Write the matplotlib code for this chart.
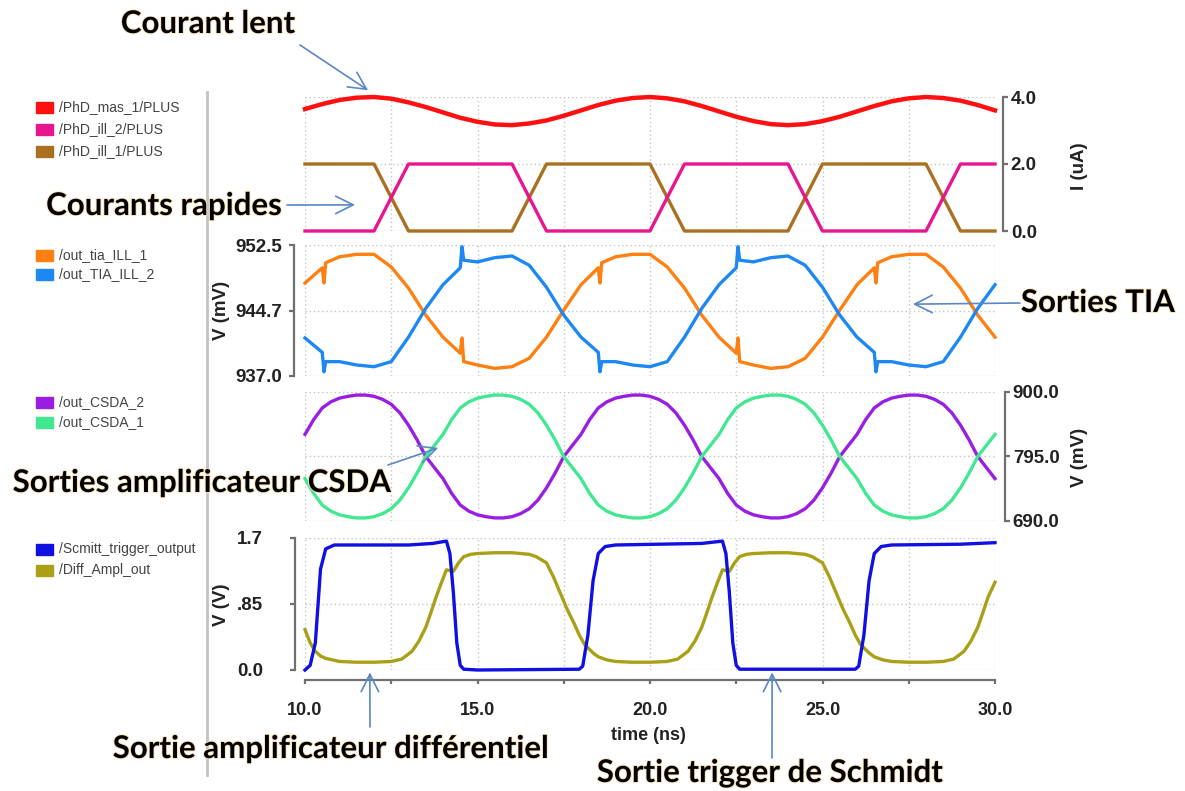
import matplotlib.pyplot as plt
import matplotlib.patheffects as pe
from matplotlib.patches import Rectangle
from matplotlib.lines import Line2D

# ---------------- data ----------------
# time grids (ns)
t_half = [10.0, 10.5, 11.0, 11.5, 12.0, 12.5, 13.0, 13.5, 14.0, 14.5,
          15.0, 15.5, 16.0, 16.5, 17.0, 17.5, 18.0, 18.5, 19.0, 19.5,
          20.0, 20.5, 21.0, 21.5, 22.0, 22.5, 23.0, 23.5, 24.0, 24.5,
          25.0, 25.5, 26.0, 26.5, 27.0, 27.5, 28.0, 28.5, 29.0, 29.5, 30.0]
t_quarter = [10.0, 10.25, 10.5, 10.75, 11.0, 11.25, 11.5, 11.75, 12.0, 12.25,
             12.5, 12.75, 13.0, 13.25, 13.5, 13.75, 14.0, 14.25, 14.5, 14.75,
             15.0, 15.25, 15.5, 15.75, 16.0, 16.25, 16.5, 16.75, 17.0, 17.25,
             17.5, 17.75, 18.0, 18.25, 18.5, 18.75, 19.0, 19.25, 19.5, 19.75,
             20.0, 20.25, 20.5, 20.75, 21.0, 21.25, 21.5, 21.75, 22.0, 22.25,
             22.5, 22.75, 23.0, 23.25, 23.5, 23.75, 24.0, 24.25, 24.5, 24.75,
             25.0, 25.25, 25.5, 25.75, 26.0, 26.25, 26.5, 26.75, 27.0, 27.25,
             27.5, 27.75, 28.0, 28.25, 28.5, 28.75, 29.0, 29.25, 29.5, 29.75, 30.0]

# panel 1 : currents (uA)
mas_1 = [3.64, 3.79, 3.91, 3.98, 4.00, 3.95, 3.84, 3.70, 3.54, 3.38,
         3.26, 3.18, 3.16, 3.21, 3.30, 3.44, 3.60, 3.76, 3.89, 3.97,
         4.00, 3.96, 3.87, 3.73, 3.57, 3.41, 3.28, 3.19, 3.16, 3.19,
         3.28, 3.41, 3.57, 3.73, 3.87, 3.96, 4.00, 3.97, 3.89, 3.76, 3.60]
t_fast = [10, 12, 13, 16, 17, 20, 21, 24, 25, 28, 29, 30]
ill_2 = [0, 0, 2, 2, 0, 0, 2, 2, 0, 0, 2, 2]
ill_1 = [2, 2, 0, 0, 2, 2, 0, 0, 2, 2, 0, 0]

# panel 2 : TIA outputs (mV)
t_tia = [10.0, 10.5, 10.55, 10.6, 11.0, 11.5, 12.0, 12.5, 13.0, 13.5,
         14.0, 14.5, 14.55, 14.6, 15.0, 15.5, 16.0, 16.5, 17.0, 17.5,
         18.0, 18.5, 18.55, 18.6, 19.0, 19.5, 20.0, 20.5, 21.0, 21.5,
         22.0, 22.5, 22.55, 22.6, 23.0, 23.5, 24.0, 24.5, 25.0, 25.5,
         26.0, 26.5, 26.55, 26.6, 27.0, 27.5, 28.0, 28.5, 29.0, 29.5, 30.0]
tia_1 = [948.0, 949.8, 948.0, 950.4, 951.1, 951.4, 951.4, 949.9, 947.4, 944.2,
         941.6, 939.7, 941.5, 938.7, 938.3, 937.9, 938.1, 939.1, 941.6, 944.8,
         947.8, 949.8, 948.0, 950.4, 951.1, 951.4, 951.4, 949.9, 947.4, 944.2,
         941.6, 939.7, 941.5, 938.7, 938.3, 937.9, 938.1, 939.1, 941.6, 944.8,
         947.8, 949.8, 948.0, 950.4, 951.1, 951.4, 951.4, 949.9, 947.4, 944.2, 941.6]
tia_2 = [941.5, 939.8, 937.5, 938.7, 938.7, 938.3, 938.1, 938.7, 941.6, 945.0,
         947.8, 949.8, 952.3, 950.7, 950.5, 951.0, 951.2, 950.1, 947.5, 944.2,
         941.6, 939.8, 937.5, 938.7, 938.7, 938.3, 938.1, 938.7, 941.6, 945.0,
         947.8, 949.8, 952.3, 950.7, 950.5, 951.0, 951.2, 950.1, 947.5, 944.2,
         941.6, 939.8, 937.5, 938.7, 938.7, 938.3, 938.1, 938.7, 941.6, 945.0, 947.8]

# panel 3 : CSDA outputs (mV)
csda_2 = [831, 855, 874, 884, 890, 893, 895, 895, 893, 888, 880, 866, 846, 822, 795,
          777, 759, 735, 716, 706, 700, 697, 695, 695, 697, 702, 710, 724, 744, 768, 795,
          813, 831, 855, 874, 884, 890, 893, 895, 895, 893, 888, 880, 866, 846, 822, 795,
          777, 759, 735, 716, 706, 700, 697, 695, 695, 697, 702, 710, 724, 744, 768, 795,
          813, 831, 855, 874, 884, 890, 893, 895, 895, 893, 888, 880, 866, 846, 822, 795,
          777, 759]
csda_1 = [759, 735, 716, 706, 700, 697, 695, 695, 697, 702, 710, 724, 744, 768, 795,
          813, 831, 855, 874, 884, 890, 893, 895, 895, 893, 888, 880, 866, 846, 822, 795,
          777, 759, 735, 716, 706, 700, 697, 695, 695, 697, 702, 710, 724, 744, 768, 795,
          813, 831, 855, 874, 884, 890, 893, 895, 895, 893, 888, 880, 866, 846, 822, 795,
          777, 759, 735, 716, 706, 700, 697, 695, 695, 697, 702, 710, 724, 744, 768, 795,
          813, 831]

# panel 4 : Schmitt trigger and differential amplifier (V)
t_st = [10.0, 10.15, 10.3, 10.45, 10.6, 10.85, 12.0, 13.0, 13.7, 14.1,
        14.2, 14.3, 14.4, 14.5, 14.6, 15.0, 17.95, 18.05, 18.2, 18.35,
        18.5, 18.7, 19.0, 21.5, 22.1, 22.2, 22.3, 22.4, 22.5, 22.6,
        25.95, 26.05, 26.2, 26.35, 26.5, 26.7, 27.0, 29.0, 30.0]
schmitt = [0.0, 0.06, 0.35, 1.3, 1.56, 1.61, 1.61, 1.61, 1.63, 1.66,
           1.5, 1.0, 0.35, 0.06, 0.01, 0.0, 0.01, 0.05, 0.45, 1.15,
           1.5, 1.59, 1.61, 1.63, 1.66, 1.5, 1.0, 0.35, 0.06, 0.01,
           0.01, 0.05, 0.45, 1.15, 1.5, 1.59, 1.61, 1.62, 1.64]
t_diff = [10.0, 10.15, 10.3, 10.45, 10.6, 11.0, 11.5, 12.0,
          12.5, 12.8, 13.1, 13.3, 13.5, 13.65, 13.8, 13.95, 14.1, 14.3,
          14.45, 14.6, 14.8, 15.0, 15.5, 16.0, 16.5, 16.7, 16.85, 17.0,
          17.2, 17.4, 17.6, 17.8, 17.95, 18.1, 18.35, 18.5, 18.75, 19.0,
          19.5, 20.0,
          20.5, 20.8, 21.1, 21.3, 21.5, 21.65, 21.8, 21.95, 22.1, 22.3,
          22.45, 22.6, 22.8, 23.0, 23.5, 24.0, 24.5, 24.7, 24.85, 25.0,
          25.2, 25.4, 25.6, 25.8, 25.95, 26.1, 26.35, 26.5, 26.75, 27.0,
          27.5, 28.0,
          28.5, 28.8, 29.1, 29.3, 29.5, 29.65, 29.8, 30.0]
diff_out = [0.52, 0.35, 0.24, 0.18, 0.15, 0.11, 0.10, 0.10,
            0.11, 0.14, 0.24, 0.37, 0.55, 0.74, 0.94, 1.12, 1.29, 1.27,
            1.38, 1.46, 1.49, 1.50, 1.51, 1.51, 1.49, 1.46, 1.42, 1.38,
            1.20, 0.99, 0.78, 0.60, 0.45, 0.33, 0.22, 0.17, 0.13, 0.11,
            0.10, 0.10,
            0.11, 0.14, 0.24, 0.37, 0.55, 0.74, 0.94, 1.12, 1.29, 1.27,
            1.38, 1.46, 1.49, 1.50, 1.51, 1.51, 1.49, 1.46, 1.42, 1.38,
            1.20, 0.99, 0.78, 0.60, 0.45, 0.33, 0.22, 0.17, 0.13, 0.11,
            0.10, 0.10,
            0.11, 0.14, 0.24, 0.37, 0.55, 0.74, 0.94, 1.13]

x_grid = [10, 12.5, 15, 17.5, 20, 22.5, 25, 27.5, 30]
x_labels = ['10.0', '', '15.0', '', '20.0', '', '25.0', '', '30.0']

# colours
RED, PINK, BROWN = '#ff1010', '#e8168e', '#a87020'
ORANGE, SKY = '#ff8012', '#1e88f2'
PURPLE, GREEN = '#9a1ee2', '#42e890'
BLUE, OLIVE = '#1010e0', '#aaa018'
AXC = '#707070'

plt.rcParams['font.family'] = ['Liberation Sans', 'DejaVu Sans']

W, H = 1185, 791
fig = plt.figure(figsize=(W / 100, H / 100), dpi=100)


def box(x0, y0, x1, y1):
    return [x0 / W, 1 - y1 / H, (x1 - x0) / W, (y1 - y0) / H]


def setup(ax, side, lo, hi, ticks, labels, out):
    ax.set_xlim(10, 30)
    ax.set_ylim(lo, hi)
    ax.patch.set_alpha(0)
    for s in ax.spines.values():
        s.set_visible(False)
    sp = ax.spines[side]
    sp.set_visible(True)
    sp.set_position(('outward', out))
    sp.set_bounds(lo, hi)
    sp.set_color(AXC)
    sp.set_linewidth(1.6)
    ax.yaxis.set_ticks_position(side)
    ax.set_yticks(ticks)
    ax.set_yticklabels(labels, fontsize=13.5, fontweight='bold', color='#222')
    ax.set_xticks(x_grid)
    ax.tick_params(axis='x', length=0, labelbottom=False)
    ax.tick_params(axis='y', length=3.6, width=1.6, color=AXC)
    if side == 'left':
        ax.tick_params(axis='y', pad=38.5)
        for lab in ax.get_yticklabels():
            lab.set_ha('left')
    else:
        ax.tick_params(axis='y', pad=2)
    ax.grid(True, ls=(0, (1, 2)), color='#c4c4c4', lw=1)
    ax.set_axisbelow(True)


ax1 = fig.add_axes(box(305, 97, 995, 231))
ax2 = fig.add_axes(box(305, 245, 995, 376))
ax3 = fig.add_axes(box(305, 392, 995, 521))
ax4 = fig.add_axes(box(305, 538, 995, 670))

setup(ax1, 'right', 0, 4, [0, 2, 4], ['0.0', '2.0', '4.0'], 5.8)
setup(ax2, 'left', 937.0, 952.5, [937.0, 944.7, 952.5], ['937.0', '944.7', '952.5'], 8)
setup(ax3, 'right', 690, 900, [690, 795, 900], ['690.0', '795.0', '900.0'], 7.2)
setup(ax4, 'left', 0, 1.7, [0, 0.85, 1.7], ['0.0', '.85', '1.7'], 7)

# x axis of the bottom panel
xs = ax4.spines['bottom']
xs.set_visible(True)
xs.set_position(('outward', 7.2))
xs.set_bounds(10, 30)
xs.set_color(AXC)
xs.set_linewidth(1.6)
ax4.set_xticks(x_grid)
ax4.set_xticklabels(x_labels, fontsize=13, fontweight='bold', color='#222')
ax4.tick_params(axis='x', length=3, width=1.6, color=AXC, labelbottom=True, pad=13)

kw = dict(lw=2.4, clip_on=False, solid_joinstyle='round')
ax1.plot(t_half, mas_1, color=RED, lw=3.2, clip_on=False)
ax1.plot(t_fast, ill_1, color=BROWN, **kw)
ax1.plot(t_fast, ill_2, color=PINK, **kw)
ax2.plot(t_tia, tia_1, color=ORANGE, **kw)
ax2.plot(t_tia, tia_2, color=SKY, **kw)
ax3.plot(t_quarter, csda_2, color=PURPLE, **kw)
ax3.plot(t_quarter, csda_1, color=GREEN, **kw)
ax4.plot(t_diff, diff_out, color=OLIVE, **kw)
ax4.plot(t_st, schmitt, color=BLUE, **kw)

# axis titles
lab = dict(fontsize=13.5, fontweight='bold', color='#222', rotation=90,
           ha='center', va='center')
fig.text(1080 / W, 1 - 166 / H, 'I (uA)', **lab)
fig.text(222 / W, 1 - 310 / H, 'V (mV)', **lab)
fig.text(1080 / W, 1 - 457 / H, 'V (mV)', **lab)
fig.text(222 / W, 1 - 605 / H, 'V (V)', **lab)
fig.text(648 / W, 1 - 735 / H, 'time (ns)', fontsize=13, fontweight='bold',
         color='#222', ha='center', va='center')

# grey separator between legend column and plots
fig.add_artist(Line2D([207 / W, 207 / W], [1 - 92 / H, 1 - 775 / H],
                      color='#c2c2c2', lw=2, zorder=0))

# legend column
rows = [('/PhD_mas_1/PLUS', RED, 107), ('/PhD_ill_2/PLUS', PINK, 129),
        ('/PhD_ill_1/PLUS', BROWN, 151),
        ('/out_tia_ILL_1', ORANGE, 255), ('/out_TIA_ILL_2', SKY, 274),
        ('/out_CSDA_2', PURPLE, 402), ('/out_CSDA_1', GREEN, 422),
        ('/Scmitt_trigger_output', BLUE, 549), ('/Diff_Ampl_out', OLIVE, 570)]
for name, col, y in rows:
    fig.add_artist(Rectangle((36 / W, 1 - (y + 5.5) / H), 17 / W, 11 / H,
                             transform=fig.transFigure, color=col))
    fig.text(59 / W, 1 - y / H, name, fontsize=10, color='#444',
             ha='left', va='center')

# callouts
glow = [pe.withStroke(linewidth=1.4, foreground='#fae3bd')]
notes = [('Courant lent', 208, 33),
         ('Courants rapides', 164, 215),
         ('Sorties TIA', 1098, 312),
         ('Sorties amplificateur CSDA', 202, 492),
         ('Sortie amplificateur différentiel', 331, 758),
         ('Sortie trigger de Schmidt', 770, 782)]
for txt, x, y in notes:
    fig.text(x / W, 1 - y / H, txt, family=['Lato', 'DejaVu Sans'],
             fontweight='bold', fontsize=22.5, color='black', ha='center',
             va='baseline', path_effects=glow, zorder=5)

arrow = dict(arrowstyle='->,head_length=0.9,head_width=0.45', color='#5a87c6',
             lw=1.2, shrinkA=0, shrinkB=0, mutation_scale=14)
pointers = [(ax1, 11.83, 4.2, 300, 45),
            (ax1, 11.45, 0.78, 287, 205),
            (ax2, 27.62, 945.5, 1020, 303),
            (ax3, 13.86, 809, 388, 465),
            (ax4, 11.88, -0.03, 370, 727),
            (ax4, 23.54, -0.03, 772, 758)]
for ax, tx, vy, px, py in pointers:
    ax.annotate('', xy=(tx, vy), xycoords='data', xytext=(px, H - py),
                textcoords='figure pixels', arrowprops=arrow,
                annotation_clip=False)

fig.savefig('out.png', dpi=100)
